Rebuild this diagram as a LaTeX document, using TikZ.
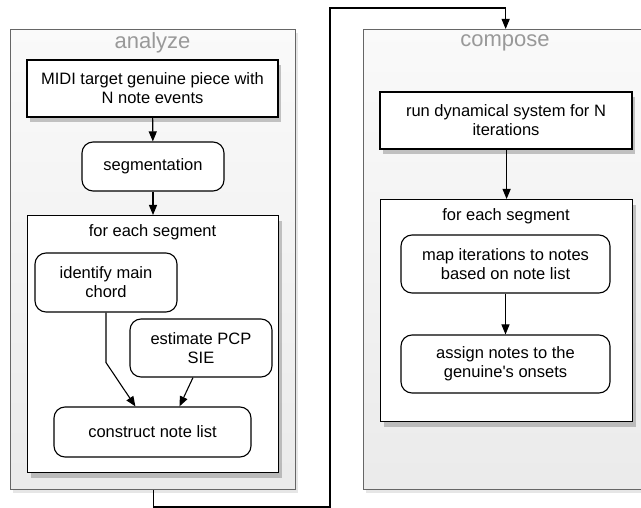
\documentclass[tikz,border=0pt]{standalone}
\usepackage{fontspec}
\setmainfont{Liberation Sans}
\usetikzlibrary{shadows,arrows.meta,calc}

\begin{document}
\begin{tikzpicture}[x=1pt, y=-1pt,
    stage/.style={draw=black!60, line width=1.3pt, top color=black!2, bottom color=black!8,
        drop shadow={opacity=0.2, shadow xshift=2pt, shadow yshift=-3pt}},
    stagename/.style={text=black!40, font=\fontsize{22}{26}\selectfont},
    block/.style={draw=black, line width=1.2pt, fill=white, align=center,
        font=\fontsize{16.5}{19}\selectfont,
        drop shadow={opacity=0.45, shadow xshift=3pt, shadow yshift=-5pt}},
    step box/.style={draw=black, line width=1.1pt, fill=white, rounded corners=11pt,
        align=center, font=\fontsize{16.5}{19}\selectfont},
    heading/.style={font=\fontsize{16.5}{19}\selectfont},
    flow/.style={line width=1.1pt, -{Triangle[length=10pt, width=8pt]}}]

    \useasboundingbox (0,0) rectangle (641,508);
    \clip (0,0) rectangle (641,508);

    % Stage boxes
    \node[stage, anchor=north west, minimum width=285pt, minimum height=460pt] (analyze) at (10,29) {};
    \node[stagename] (analyzename) at (152.5,43) {analyze};
    \node[stage, anchor=north west, minimum width=284pt, minimum height=460pt] (compose) at (363,29) {};
    \node[stagename] (composename) at (505,43) {compose};

    % Analyze side
    \node[block, minimum width=251pt, minimum height=57pt] (midi) at (152.5,88.5)
        {MIDI target genuine piece with\\N note events};
    \node[step box, minimum width=142pt, minimum height=49pt] (segm) at (153,166.5) {segmentation};
    \node[block, anchor=north west, minimum width=251pt, minimum height=257pt] (eachA) at (27,215) {};
    \node[heading] (eachAname) at (152.5,232) {for each segment};
    \node[step box, minimum width=142pt, minimum height=59pt] (chord) at (106,282.5) {identify main\\chord};
    \node[step box, minimum width=142pt, minimum height=58pt] (pcp) at (201,348) {estimate PCP\\SIE};
    \node[step box, minimum width=197pt, minimum height=50pt] (notelist) at (152.5,432) {construct note list};

    % Compose side
    \node[block, minimum width=252pt, minimum height=57pt] (run) at (506,120.5)
        {run dynamical system for N\\iterations};
    \node[block, anchor=north west, minimum width=252pt, minimum height=222pt] (eachC) at (380,199) {};
    \node[heading] (eachCname) at (506,216) {for each segment};
    \node[step box, minimum width=209pt, minimum height=58pt] (mapit) at (505.5,264) {map iterations to notes\\based on note list};
    \node[step box, minimum width=209pt, minimum height=58pt] (assign) at (505.5,364) {assign notes to the\\genuine\textquotesingle s onsets};

    % Arrows
    \draw[flow] (midi) -- (segm);
    \draw[flow] (segm) -- (segm |- eachA.north);
    \draw[flow] (chord.south) -- ++(0,50) -- ($(notelist.north west)+(82,0)$);
    \draw[flow] ($(pcp.south)+(-8,0)$) -- ($(notelist.north west)+(126,0)$);
    \draw[flow] (run.south -| eachC.north) -- (eachC.north);
    \draw[flow] (mapit) -- (assign);

    % Link between the stages
    \coordinate (turn) at (330,507);
    \draw[flow] (analyze.south) |- (turn) |- ($(compose.north)+(0,-21)$) -- (compose.north);
\end{tikzpicture}
\end{document}
